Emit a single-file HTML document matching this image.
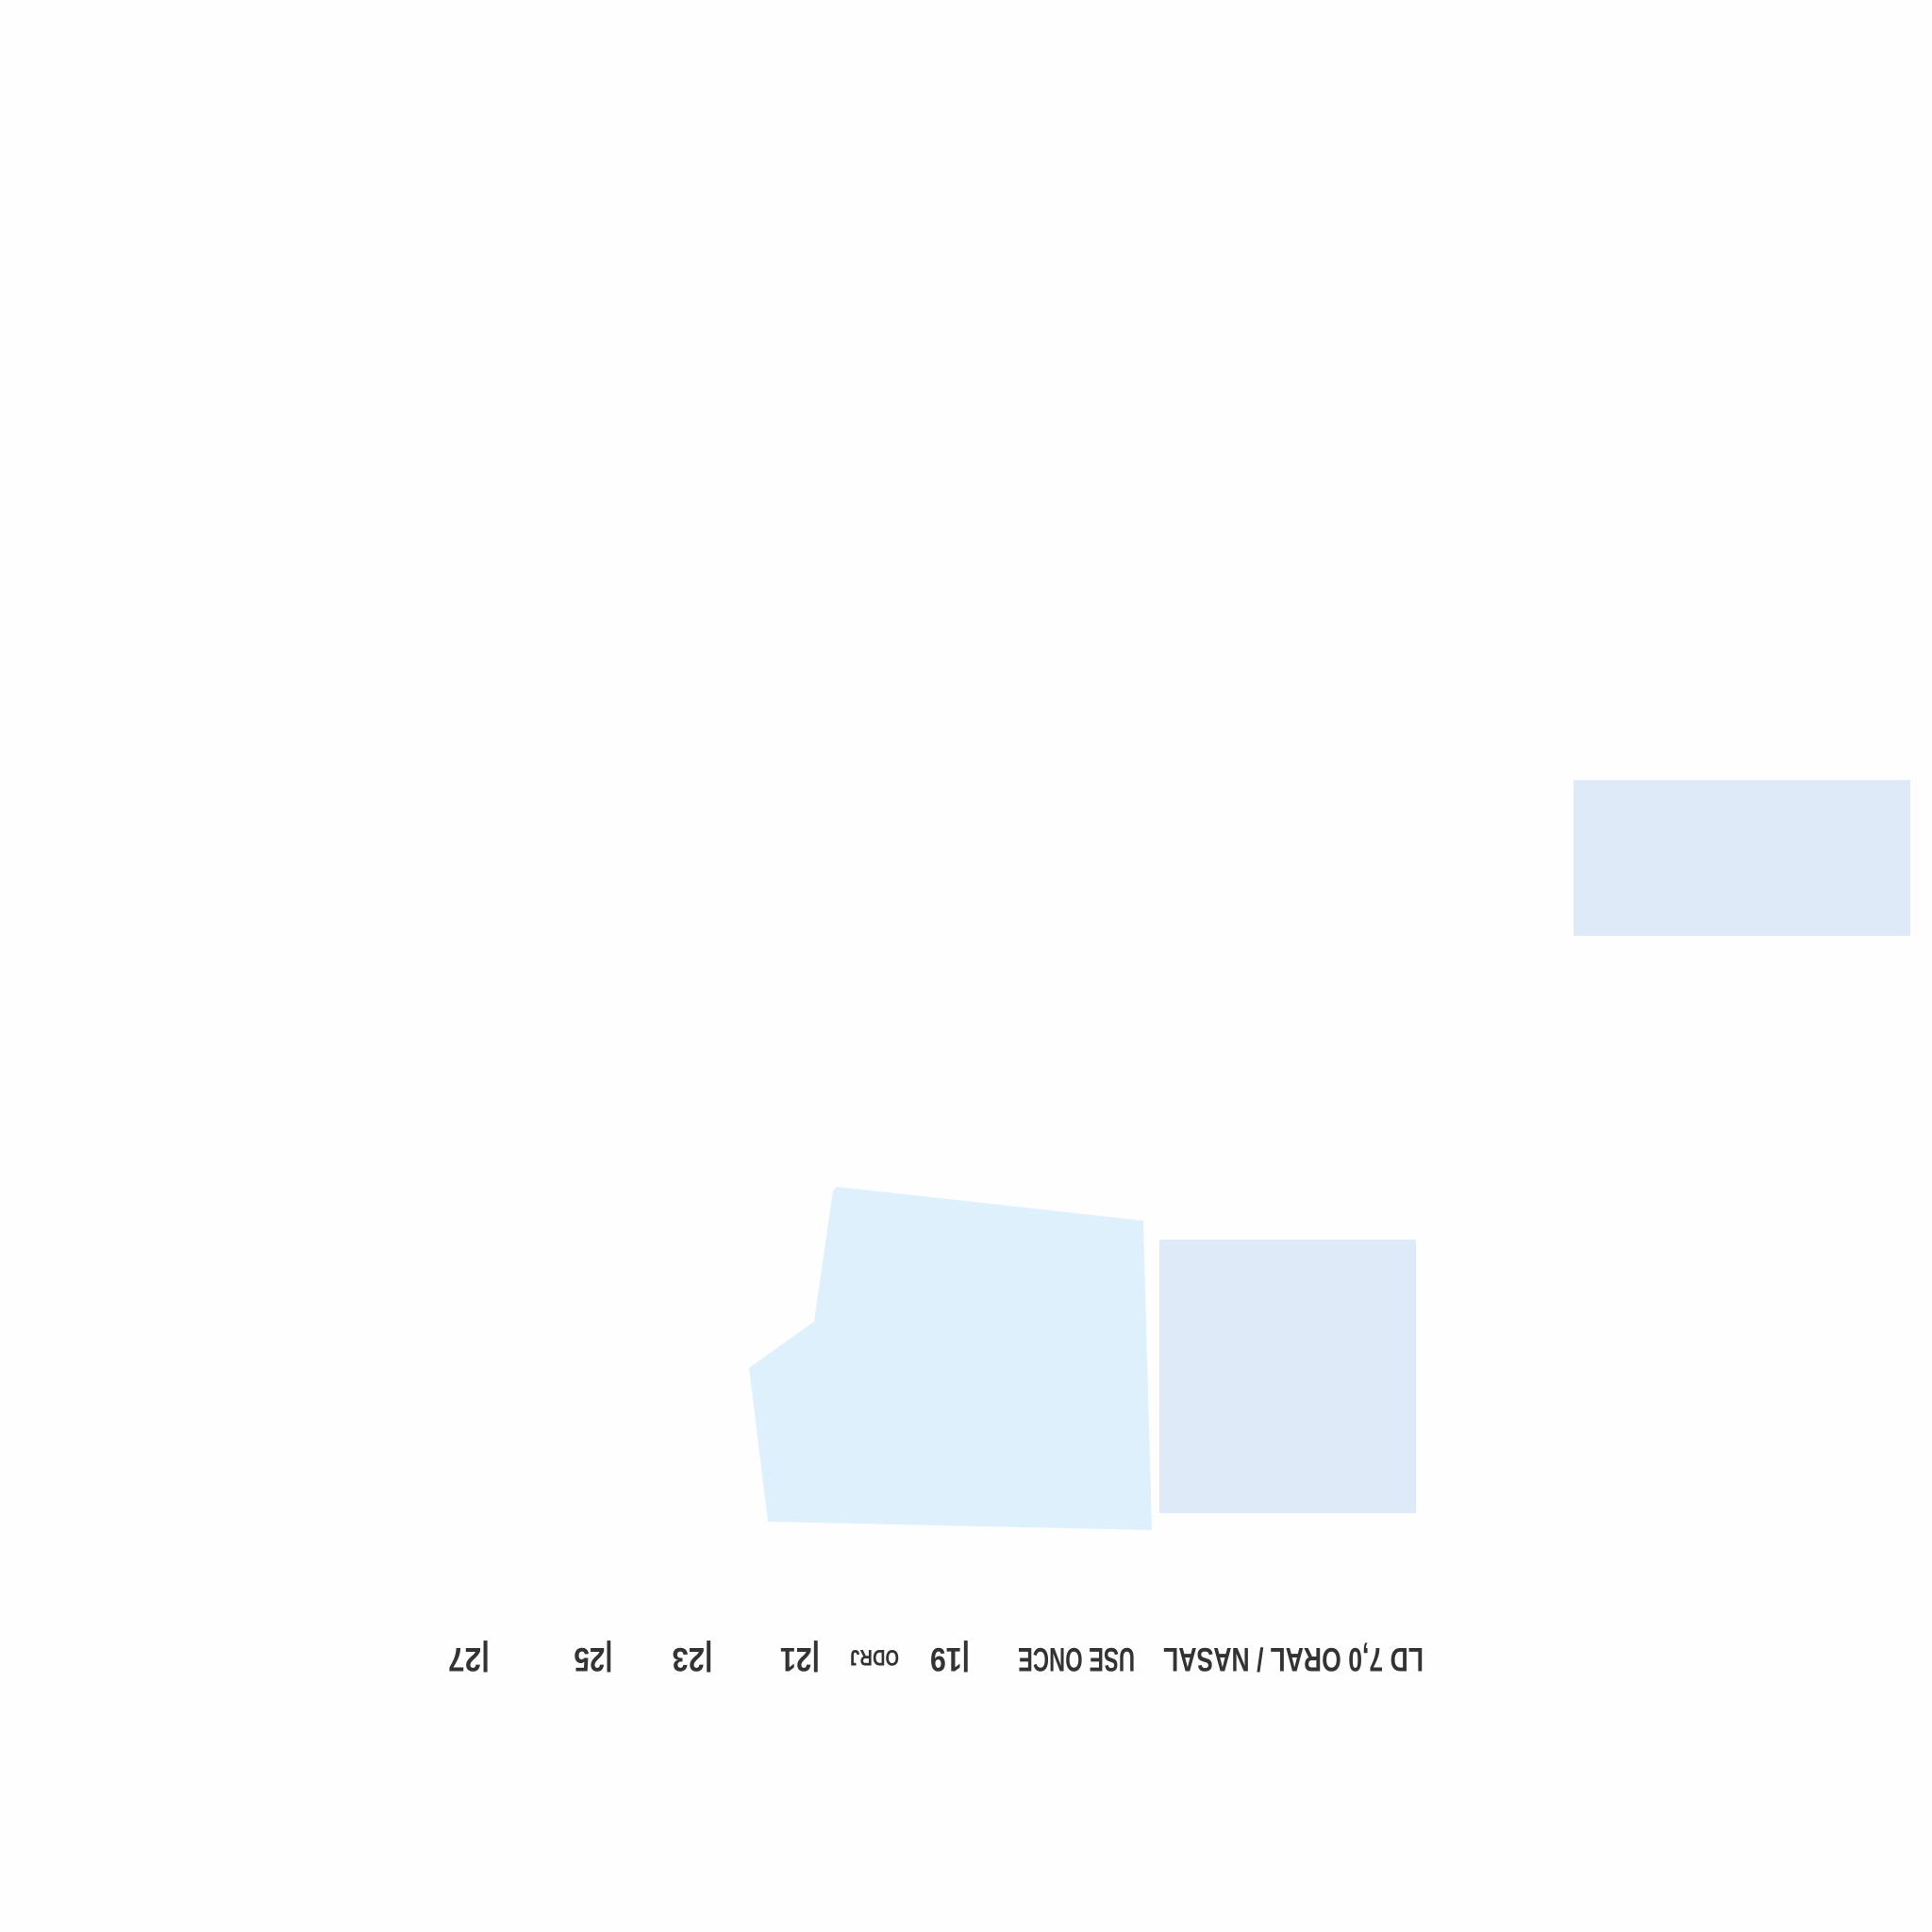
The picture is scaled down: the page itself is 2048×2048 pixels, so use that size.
<!DOCTYPE html>
<html><head><meta charset="utf-8"><style>
html,body{margin:0;padding:0;background:#fefefe;}
svg{display:block;}
text{font-family:"Liberation Sans",sans-serif;font-weight:bold;fill:#333;}
</style></head><body>
<svg width="2048" height="2048" viewBox="0 0 2048 2048">
<rect x="0" y="0" width="2048" height="2048" fill="#fefefe"/>
<rect x="1668" y="827" width="357" height="165" fill="#deeaf7"/>
<polygon points="887,1258 883,1262 863,1401 794,1450 814,1613 1221,1622 1212,1294" fill="#dff0fd"/>
<rect x="1229" y="1314" width="272" height="290" fill="#deeaf7"/>
<g id="labels">
<text x="1371" y="1772" font-size="35" text-anchor="middle" textLength="276" lengthAdjust="spacingAndGlyphs" transform="rotate(180 1371 1759.5)">LD  7,0  ORAL / NASAL</text>
<text x="1141" y="1772" font-size="35" text-anchor="middle" textLength="124" lengthAdjust="spacingAndGlyphs" transform="rotate(180 1141 1759.5)">USE ONCE</text>
<text x="1007" y="1772" font-size="35" text-anchor="middle" textLength="42" lengthAdjust="spacingAndGlyphs" transform="rotate(180 1007 1759.5)">|19</text>
<text x="927" y="1767" font-size="24" text-anchor="middle" textLength="52" lengthAdjust="spacingAndGlyphs" transform="rotate(180 927 1758)">ODRJ</text>
<text x="848" y="1772" font-size="35" text-anchor="middle" textLength="42" lengthAdjust="spacingAndGlyphs" transform="rotate(180 848 1759.5)">|21</text>
<text x="734" y="1772" font-size="35" text-anchor="middle" textLength="43" lengthAdjust="spacingAndGlyphs" transform="rotate(180 734 1759.5)">|23</text>
<text x="629" y="1772" font-size="35" text-anchor="middle" textLength="41" lengthAdjust="spacingAndGlyphs" transform="rotate(180 629 1759.5)">|25</text>
<text x="497" y="1772" font-size="35" text-anchor="middle" textLength="44" lengthAdjust="spacingAndGlyphs" transform="rotate(180 497 1759.5)">|27</text>
</g>
</svg>
</body></html>
